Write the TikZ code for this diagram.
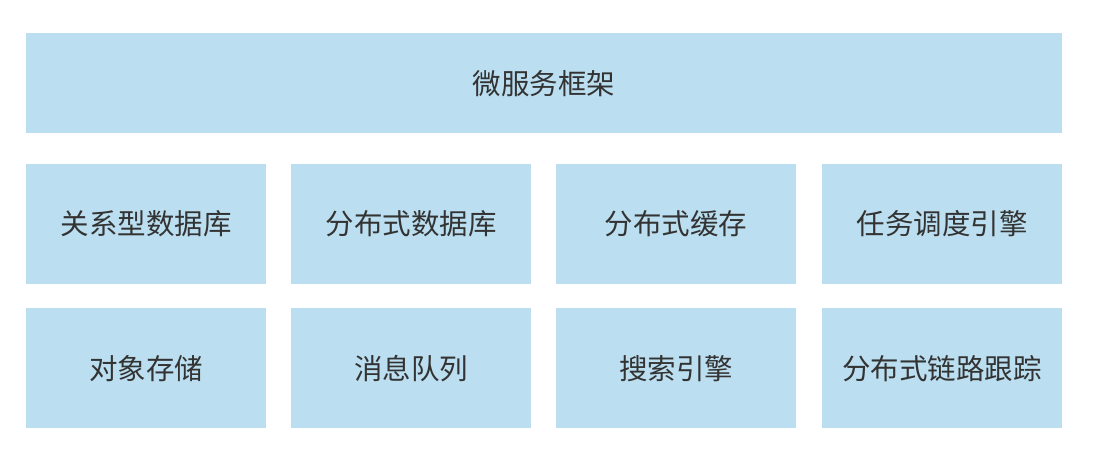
\documentclass[tikz,border=0pt]{standalone}
\usepackage{fontspec}
\setmainfont{Noto Sans CJK SC}
\definecolor{boxblue}{HTML}{BBDFF0}
\definecolor{txtgray}{HTML}{333333}
\usetikzlibrary{positioning}

\begin{document}
\begin{tikzpicture}[x=1pt, y=-1pt, every node/.style={font=\fontsize{28.5}{31}\selectfont, text=txtgray},
  bx/.style={fill=boxblue, draw=none, minimum width=240pt, minimum height=120pt, inner sep=0pt, align=center}]
\useasboundingbox (0,0) rectangle (1105,457);
% Framework
\node[bx, minimum width=1035.5pt, minimum height=100pt] (frame) at (543.75,83.5) {微服务框架};
% Row 1
\node[bx] (rdb) at (146,224) {关系型数据库};
\node[bx] (ddb) at (411,224) {分布式数据库};
\node[bx] (cache) at (676,224) {分布式缓存};
\node[bx] (sched) at (942,224) {任务调度引擎};
% Row 2
\node[bx] (obj) at (146,368.3) {对象存储};
\node[bx] (mq) at (411,368.3) {消息队列};
\node[bx] (search) at (676,368.3) {搜索引擎};
\node[bx] (trace) at (942,368.3) {分布式链路跟踪};
\end{tikzpicture}
\end{document}
